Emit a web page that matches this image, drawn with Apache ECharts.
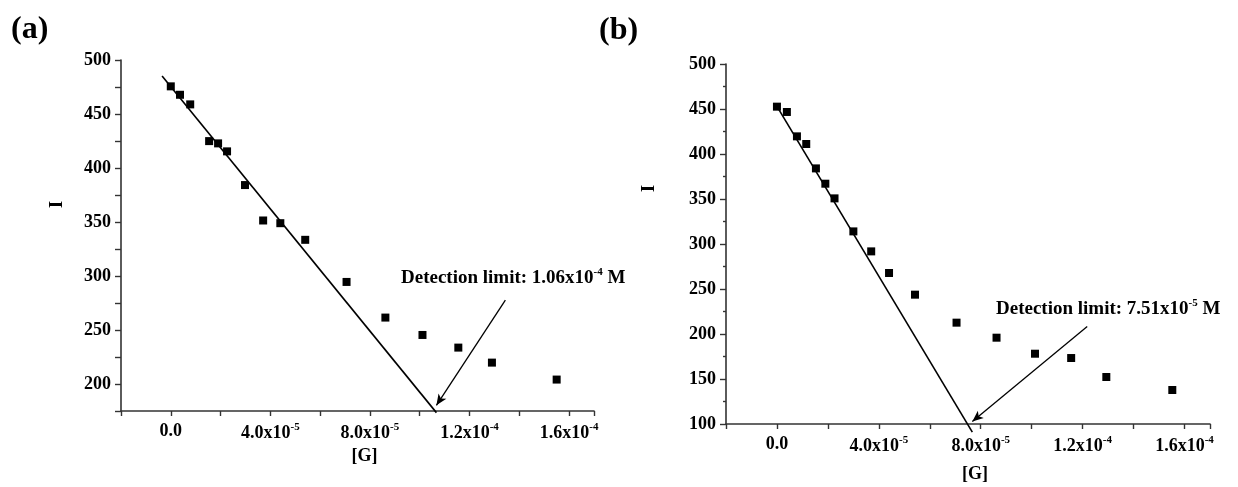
<!DOCTYPE html>
<html><head><meta charset="utf-8">
<script src="https://cdn.jsdelivr.net/npm/echarts@6/dist/echarts.min.js"></script>
<style>html,body{margin:0;padding:0;background:#fff}#c{width:1238px;height:487px}</style>
</head><body><div id="c"></div><script>
// ---- data (panel a) ----
const gA = [0, 0.37e-5, 0.78e-5, 1.54e-5, 1.90e-5, 2.26e-5, 2.98e-5, 3.71e-5, 4.40e-5, 5.40e-5, 7.06e-5, 8.62e-5, 10.11e-5, 11.55e-5, 12.90e-5, 15.50e-5];
const iA = [475.6, 467.8, 458.9, 424.9, 422.8, 415.4, 384.2, 351.4, 348.9, 333.5, 294.5, 261.5, 245.4, 233.7, 219.8, 204.1];
const fitAx = [-0.35e-5, 10.67e-5];
const fitAy = [485.2, 173.5];
const arrowAx = [13.44e-5, 10.67e-5];
const arrowAy = [277.6, 180.3];
// ---- data (panel b) ----
const gB = [0, 0.39e-5, 0.785e-5, 1.15e-5, 1.53e-5, 1.90e-5, 2.26e-5, 3.0e-5, 3.7e-5, 4.4e-5, 5.42e-5, 7.05e-5, 8.62e-5, 10.13e-5, 11.55e-5, 12.93e-5, 15.52e-5];
const iB = [452.6, 446.7, 419.6, 411.1, 384.0, 367.0, 350.7, 314.0, 291.8, 267.8, 243.7, 212.6, 195.9, 178.1, 173.3, 152.2, 137.8];
const fitBx = [0, 7.67e-5];
const fitBy = [453, 91];
const arrowBx = [12.18e-5, 7.67e-5];
const arrowBy = [208.4, 102.9];
// ---- ticks / labels ----
const xTickVals = [0, 4e-5, 8e-5, 1.2e-4, 1.6e-4];
const xTickText = ['0.0', '4.0x10{s|-5}', '8.0x10{s|-5}', '1.2x10{s|-4}', '1.6x10{s|-4}'];
const xRange = [-2e-5, 1.7e-4, 2e-5];
const yRangeA = [175, 500, 25];
const yRangeB = [100, 500, 50];
const panelLabels = ['(a)', '(b)'];
const xTitle = '[G]';
const yTitle = 'I';
const noteA = 'Detection limit: 1.06x10{s|-4} M';
const noteB = 'Detection limit: 7.51x10{s|-5} M';

const FF = "'Liberation Serif','Times New Roman',serif";
const sup = { s: { fontSize: 11, fontWeight: 'bold', fontFamily: FF, color: '#000', padding: [0, 0, 12, 0] } };
const zip = (a, b) => a.map((v, i) => [v, b[i]]);

function xAxisCfg(gridIndex, nameGap) {
  return {
    type: 'value', gridIndex, min: xRange[0], max: xRange[1], interval: xRange[2],
    name: xTitle, nameLocation: 'middle', nameGap,
    nameTextStyle: { fontFamily: FF, fontWeight: 'bold', fontSize: 18, color: '#000', padding: [0, 0, 0, 14] },
    axisLine: { onZero: false, lineStyle: { color: '#333', width: 1.6 } },
    axisTick: { length: 5, lineStyle: { color: '#333', width: 1.4 } },
    splitLine: { show: false },
    axisLabel: {
      margin: 11, fontFamily: FF, fontWeight: 'bold', fontSize: 18, color: '#000', rich: sup,
      showMinLabel: true, showMaxLabel: true,
      formatter: v => { const i = xTickVals.findIndex(t => Math.abs(t - v) < 1e-9); return i >= 0 ? xTickText[i] : ''; }
    }
  };
}
function yAxisCfg(gridIndex, r) {
  return {
    type: 'value', gridIndex, min: r[0], max: r[1], interval: r[2],
    axisLine: { onZero: false, lineStyle: { color: '#333', width: 1.6 } },
    axisTick: { length: 6, lineStyle: { color: '#333', width: 1.4 } },
    minorTick: r[2] === 50 ? { show: true, splitNumber: 2, length: 3, lineStyle: { color: '#333', width: 1.4 } } : { show: false },
    splitLine: { show: false },
    axisLabel: {
      margin: 10, fontFamily: FF, fontWeight: 'bold', fontSize: 18, color: '#000',
      formatter: v => (Math.round(v) % 50 === 0 ? String(Math.round(v)) : '')
    }
  };
}
function seriesFor(idx, gx, iy, fx, fy, ax, ay) {
  return [
    { type: 'scatter', xAxisIndex: idx, yAxisIndex: idx, data: zip(gx, iy), symbol: 'rect', symbolSize: 8,
      itemStyle: { color: '#000', opacity: 1 }, z: 3 },
    { type: 'line', xAxisIndex: idx, yAxisIndex: idx, data: zip(fx, fy), showSymbol: false, symbol: 'none', clip: false,
      lineStyle: { color: '#000', width: 1.6 },
      markLine: { silent: true, symbol: ['none', 'arrow'], symbolSize: [7, 11], label: { show: false },
        lineStyle: { color: '#000', width: 1.3, type: 'solid' },
        data: [[{ coord: [ax[0], ay[0]] }, { coord: [ax[1], ay[1]] }]] } }
  ];
}
function txt(x, y, text, size, rot) {
  return { type: 'text', x, y, rotation: rot || 0,
    style: { text, rich: sup, fill: '#000', fontFamily: FF, fontWeight: 'bold', fontSize: size, align: 'left', verticalAlign: 'middle' } };
}

const chart = echarts.init(document.getElementById('c'), null, { renderer: 'canvas' });
chart.setOption({
  animation: false,
  backgroundColor: '#fff',
  grid: [
    { left: 121, top: 60, width: 473, height: 351, outerBoundsMode: 'none' },
    { left: 726, top: 64, width: 484, height: 360, outerBoundsMode: 'none' }
  ],
  xAxis: [xAxisCfg(0, 31), xAxisCfg(1, 41)],
  yAxis: [yAxisCfg(0, yRangeA), yAxisCfg(1, yRangeB)],
  series: [].concat(
    seriesFor(0, gA, iA, fitAx, fitAy, arrowAx, arrowAy),
    seriesFor(1, gB, iB, fitBx, fitBy, arrowBx, arrowBy)
  ),
  graphic: [
    txt(11, 30, panelLabels[0], 32),
    txt(599, 31, panelLabels[1], 32),
    txt(57, 208, yTitle, 18, Math.PI / 2),
    txt(649, 192, yTitle, 18, Math.PI / 2),
    txt(401, 278, noteA, 19),
    txt(996, 309, noteB, 19)
  ]
});
</script></body></html>
